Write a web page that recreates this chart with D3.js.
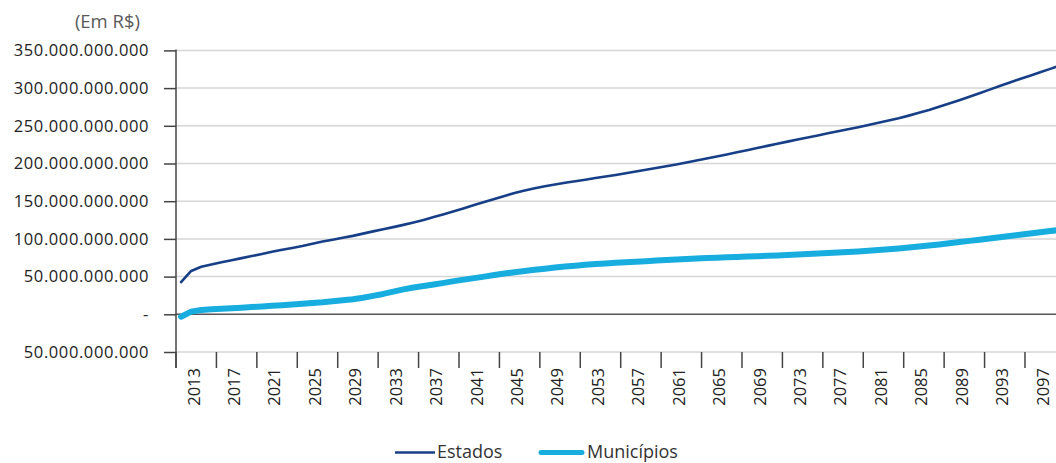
<!DOCTYPE html>
<html>
<head>
<meta charset="utf-8">
<script src="https://cdn.jsdelivr.net/npm/d3@7"></script>
<style>
  body { margin: 0; background: #fff; }
  text { font-family: "Open Sans", sans-serif; }
</style>
</head>
<body>
<svg id="chart" width="1056" height="463"></svg>
<script>
// data (values in billions of R$)
const years = d3.range(2013, 2101);

const estados = [
  42.8, 57.5, 63, 66, 69, 71.7, 74.5, 77.2, 80, 83,
  85.5, 88, 90.5, 93.5, 96.5, 99, 101.5, 104, 107, 110,
  112.8, 115.6, 118.6, 121.8, 125.2, 128.9, 132.8, 136.8, 140.8, 144.9,
  149, 153, 157, 160.8, 164.2, 167.2, 169.8, 172.2, 174.4, 176.5,
  178.5, 180.7, 182.8, 184.8, 187, 189.3, 191.7, 194, 196.3, 198.6,
  201.2, 204, 206.6, 209.3, 212, 214.8, 217.6, 220.5, 223.4, 226.3,
  229, 231.8, 234.5, 237.2, 240, 242.7, 245.4, 248.2, 251, 254,
  257, 260, 263.5, 267.2, 271, 275.2, 279.5, 284, 288.6, 293.3,
  298, 302.8, 307.5, 312, 316.5, 321, 325.5, 330
];

const municipios = [
  -3.2, 3.5, 5.7, 6.6, 7.4, 8.1, 8.8, 9.6, 10.4, 11.2,
  12.1, 13, 14, 15, 16, 17.3, 18.6, 20, 22, 24.5,
  27, 30, 33, 35.5, 37.5, 39.5, 41.7, 44, 46, 48,
  50, 52, 54, 55.8, 57.5, 59, 60.5, 62, 63.3, 64.5,
  65.6, 66.6, 67.5, 68.3, 69.1, 69.8, 70.5, 71.2, 71.9, 72.6,
  73.3, 74, 74.6, 75.1, 75.6, 76.1, 76.6, 77.1, 77.6, 78.1,
  78.7, 79.3, 79.9, 80.5, 81.2, 81.9, 82.6, 83.4, 84.3, 85.2,
  86.2, 87.3, 88.5, 89.8, 91.2, 92.7, 94.3, 95.8, 97.4, 99,
  100.6, 102.2, 103.8, 105.4, 107.1, 108.8, 110.4, 112
];

const yTicks = [-50, 0, 50, 100, 150, 200, 250, 300, 350];
const yTickLabels = ["50.000.000.000", "-", "50.000.000.000", "100.000.000.000",
  "150.000.000.000", "200.000.000.000", "250.000.000.000", "300.000.000.000",
  "350.000.000.000"];
const xLabelYears = d3.range(2013, 2101, 4);

const series = [
  { name: "Estados", values: estados, color: "#173f87", width: 2.6 },
  { name: "Municípios", values: municipios, color: "#17addf", width: 6 }
];

const svg = d3.select("#chart");
const plotLeft = 176, plotTop = 50.4, plotBottom = 352;
const perYear = 10.107;

const x = d3.scaleLinear()
  .domain([2012.5, 2100.5])
  .range([plotLeft, plotLeft + 88 * perYear]);

const y = d3.scaleLinear()
  .domain([-50, 350])
  .range([plotBottom, plotTop]);

// gridlines
svg.append("g")
  .selectAll("line")
  .data(yTicks.filter(d => d !== 0))
  .enter()
  .append("line")
  .attr("x1", plotLeft)
  .attr("x2", 1056)
  .attr("y1", d => y(d))
  .attr("y2", d => y(d))
  .attr("stroke", "#d6d6d6")
  .attr("stroke-width", 1.5);

// zero line
svg.append("line")
  .attr("x1", plotLeft).attr("x2", 1056)
  .attr("y1", y(0)).attr("y2", y(0))
  .attr("stroke", "#555")
  .attr("stroke-width", 1.5);

// y axis
const yAxis = d3.axisLeft(y)
  .tickValues(yTicks)
  .tickSize(12)
  .tickPadding(15)
  .tickFormat((d, i) => yTickLabels[i]);

const yg = svg.append("g")
  .attr("transform", `translate(${plotLeft},0)`)
  .call(yAxis);
yg.select(".domain").remove();
yg.selectAll(".tick line").attr("stroke", "#444").attr("stroke-width", 1.5);
yg.selectAll(".tick text")
  .attr("fill", "#222")
  .style("font-size", "16.5px")
  .style("letter-spacing", "0.6px");

svg.append("line")
  .attr("x1", plotLeft).attr("x2", plotLeft)
  .attr("y1", plotTop - 1).attr("y2", plotBottom + 16)
  .attr("stroke", "#444")
  .attr("stroke-width", 1.5);

// x tick marks between 4-year groups
svg.append("g")
  .selectAll("line")
  .data(d3.range(2012.5, 2101, 4))
  .enter()
  .append("line")
  .attr("x1", d => x(d))
  .attr("x2", d => x(d))
  .attr("y1", plotBottom)
  .attr("y2", plotBottom + 16)
  .attr("stroke", "#444")
  .attr("stroke-width", 1.5);

// x labels, rotated
svg.append("g")
  .selectAll("text")
  .data(xLabelYears)
  .enter()
  .append("text")
  .attr("transform", d => `translate(${x(d + 1.5) - 1},${plotBottom + 16}) rotate(-90)`)
  .attr("text-anchor", "end")
  .attr("dominant-baseline", "middle")
  .attr("fill", "#222")
  .style("font-size", "16.5px")
  .text(d => d);

// lines
const line = d3.line()
  .x((d, i) => x(years[i]))
  .y(d => y(d));

svg.append("g")
  .selectAll("path")
  .data(series.slice().reverse())
  .enter()
  .append("path")
  .attr("d", d => line(d.values))
  .attr("fill", "none")
  .attr("stroke", d => d.color)
  .attr("stroke-width", d => d.width)
  .attr("stroke-linecap", "round")
  .attr("stroke-linejoin", "round");

// unit label
svg.append("text")
  .attr("x", 140)
  .attr("y", 28)
  .attr("text-anchor", "end")
  .attr("fill", "#595959")
  .style("font-size", "18.5px")
  .text("(Em R$)");

// legend
const legendX = [395, 541];
const legend = svg.append("g")
  .selectAll("g")
  .data(series)
  .enter()
  .append("g")
  .attr("transform", (d, i) => `translate(${legendX[i]},452.5)`);

legend.append("line")
  .attr("x1", 0)
  .attr("x2", (d, i) => i === 0 ? 40 : 41)
  .attr("stroke", d => d.color)
  .attr("stroke-width", (d, i) => i === 1 ? 5 : 2.4)
  .attr("stroke-linecap", (d, i) => i === 1 ? "round" : "butt");

legend.append("text")
  .attr("x", (d, i) => i === 0 ? 42 : 46)
  .attr("y", 5.5)
  .attr("fill", "#333")
  .style("font-size", "18px")
  .text(d => d.name);
</script>
</body>
</html>
